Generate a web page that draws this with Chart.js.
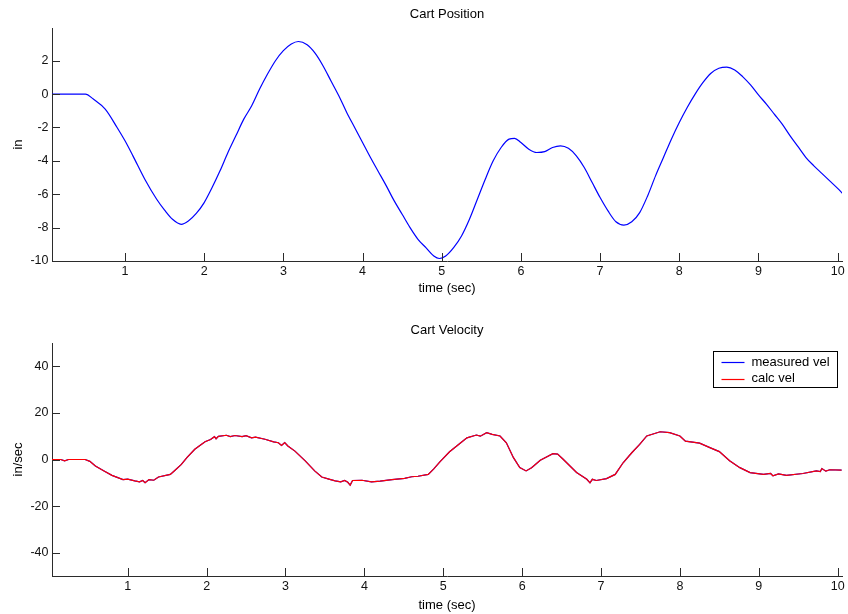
<!DOCTYPE html>
<html>
<head>
<meta charset="utf-8">
<script src="https://cdn.jsdelivr.net/npm/chart.js@4"></script>
<style>
  body { margin: 0; background: #fff; }
  canvas { position: absolute; left: 0; }
  #posChart { top: 0; }
  #velChart { top: 307px; }
</style>
</head>
<body>
<canvas id="posChart" width="848" height="307"></canvas>
<canvas id="velChart" width="848" height="307"></canvas>
<script>
// ---- data ----
const timeTicks = [1, 2, 3, 4, 5, 6, 7, 8, 9, 10];
const posTicks = [-10, -8, -6, -4, -2, 0, 2];
const velTicks = [-40, -20, 0, 20, 40];

const posTime = [0.08, 0.3, 0.5, 0.6, 0.75, 0.9, 1.0, 1.1, 1.25, 1.4, 1.5, 1.6, 1.71, 1.8, 1.9,
  2.0, 2.1, 2.2, 2.3, 2.4, 2.5, 2.6, 2.7, 2.8, 2.9, 3.0, 3.1, 3.19, 3.3, 3.4, 3.5, 3.6, 3.7, 3.8, 3.9,
  4.0, 4.1, 4.2, 4.3, 4.4, 4.5, 4.6, 4.7, 4.8, 4.9, 4.97, 5.05, 5.15, 5.25, 5.35, 5.45, 5.55, 5.65,
  5.75, 5.85, 5.92, 6.0, 6.1, 6.2, 6.3, 6.4, 6.5, 6.6, 6.7, 6.8, 6.9, 7.0, 7.1, 7.2, 7.3, 7.4, 7.5,
  7.6, 7.7, 7.8, 7.9, 8.0, 8.1, 8.2, 8.3, 8.4, 8.5, 8.6, 8.7, 8.8, 8.9, 9.0, 9.1, 9.2, 9.3, 9.4,
  9.5, 9.6, 9.7, 9.8, 9.9, 10.0, 10.06];
const posVal = [0, 0, 0, -0.3, -0.9, -2.0, -2.8, -3.7, -5.1, -6.3, -6.95, -7.5, -7.8, -7.6, -7.15,
  -6.5, -5.6, -4.6, -3.5, -2.5, -1.5, -0.7, 0.3, 1.2, 2.0, 2.6, 3.0, 3.15, 2.95, 2.45, 1.7, 0.8, -0.1, -1.1, -2.0,
  -2.9, -3.8, -4.65, -5.5, -6.4, -7.2, -8.0, -8.7, -9.2, -9.7, -9.85, -9.7, -9.2, -8.5, -7.5, -6.3, -5.1, -4.0,
  -3.2, -2.7, -2.65, -2.9, -3.3, -3.5, -3.45, -3.2, -3.1, -3.25, -3.7, -4.4, -5.3, -6.2, -7.0, -7.65, -7.85, -7.65, -7.1,
  -6.1, -4.9, -3.8, -2.7, -1.7, -0.8, 0.0, 0.7, 1.25, 1.55, 1.62, 1.45, 1.05, 0.55, -0.05, -0.6, -1.2, -1.8, -2.5,
  -3.15, -3.8, -4.3, -4.75, -5.2, -5.65, -5.95];

const velTime = [0.04, 0.15, 0.2, 0.25, 0.46, 0.52, 0.59, 0.7, 0.8, 0.94, 1.0, 1.09, 1.15, 1.19, 1.22, 1.27,
  1.33, 1.39, 1.54, 1.6, 1.68, 1.75, 1.85, 1.98, 2.05, 2.1, 2.12, 2.15, 2.25, 2.3, 2.36, 2.45, 2.5, 2.57,
  2.62, 2.74, 2.85, 2.91, 2.95, 2.99, 3.03, 3.12, 3.25, 3.37, 3.46, 3.55, 3.63, 3.7, 3.75, 3.79, 3.82,
  3.85, 3.97, 4.09, 4.2, 4.35, 4.51, 4.6, 4.68, 4.81, 4.88, 4.96, 5.08, 5.21, 5.3, 5.42, 5.47, 5.55,
  5.62, 5.72, 5.8, 5.89, 5.97, 6.05, 6.12, 6.23, 6.39, 6.45, 6.52, 6.69, 6.82, 6.86, 6.89, 6.94, 7.07,
  7.18, 7.28, 7.39, 7.49, 7.58, 7.75, 7.87, 8.0, 8.07, 8.25, 8.38, 8.5, 8.63, 8.76, 8.89, 9.06, 9.15,
  9.18, 9.25, 9.35, 9.56, 9.73, 9.78, 9.8, 9.85, 9.9, 10.05];
const velMeasured = [0, 0, -0.6, 0, 0, -0.8, -2.8, -4.9, -6.8, -8.6, -8.4, -9.2, -9.6, -9.0, -10.0, -8.6,
  -8.9, -7.5, -6.4, -4.6, -2.1, 0.8, 4.4, 7.6, 8.6, 9.8, 8.9, 9.9, 10.4, 9.8, 10.3, 9.8, 10.2, 9.3,
  9.6, 8.7, 7.6, 7.2, 6.0, 7.3, 5.8, 3.6, -0.6, -4.9, -7.5, -8.4, -9.2, -9.6, -9.0, -9.8, -11.0,
  -9.0, -8.9, -9.6, -9.3, -8.6, -8.1, -7.4, -7.2, -6.4, -4.0, -0.9, 3.3, 6.9, 9.3, 10.5, 10.0, 11.5,
  10.8, 10.1, 7.2, 0.8, -3.5, -4.9, -3.5, -0.3, 2.5, 2.3, 0.1, -5.6, -8.5, -10.0, -8.5, -9.0, -8.2,
  -6.4, -1.4, 2.9, 6.5, 10.1, 11.9, 11.5, 10.1, 7.9, 7.0, 5.1, 3.4, -0.5, -3.5, -5.6, -6.4, -6.0,
  -7.0, -6.2, -6.8, -6.0, -4.9, -5.2, -3.9, -5.0, -4.4, -4.6];
// the two velocity traces lie on top of each other in the picture
const velCalc = [0, 0, -0.6, 0, 0, -0.8, -2.8, -4.9, -6.8, -8.6, -8.4, -9.2, -9.6, -9.0, -10.0, -8.6,
  -8.9, -7.5, -6.4, -4.6, -2.1, 0.8, 4.4, 7.6, 8.6, 9.8, 8.9, 9.9, 10.4, 9.8, 10.3, 9.8, 10.2, 9.3,
  9.6, 8.7, 7.6, 7.2, 6.0, 7.3, 5.8, 3.6, -0.6, -4.9, -7.5, -8.4, -9.2, -9.6, -9.0, -9.8, -11.0,
  -9.0, -8.9, -9.6, -9.3, -8.6, -8.1, -7.4, -7.2, -6.4, -4.0, -0.9, 3.3, 6.9, 9.3, 10.5, 10.0, 11.5,
  10.8, 10.1, 7.2, 0.8, -3.5, -4.9, -3.5, -0.3, 2.5, 2.3, 0.1, -5.6, -8.5, -10.0, -8.5, -9.0, -8.2,
  -6.4, -1.4, 2.9, 6.5, 10.1, 11.9, 11.5, 10.1, 7.9, 7.0, 5.1, 3.4, -0.5, -3.5, -5.6, -6.4, -6.0,
  -7.0, -6.2, -6.8, -6.0, -4.9, -5.2, -3.9, -5.0, -4.4, -4.6];

// ---- styling ----
Chart.defaults.font.family = '"Liberation Sans", Arial, sans-serif';
Chart.defaults.color = "#111";
const AXIS = "#2b2b2b";

function pts(xs, ys) {
    return xs.map((x, i) => ({ x: x, y: ys[i] }));
}

// matlab style tick marks pointing into the plot
const innerTicks = {
    id: "innerTicks",
    afterDatasetsDraw(chart) {
        const { ctx, chartArea, scales } = chart;
        ctx.save();
        ctx.strokeStyle = AXIS;
        ctx.lineWidth = 1;
        ctx.beginPath();
        scales.x.ticks.forEach(t => {
            const px = Math.round(scales.x.getPixelForValue(t.value)) + 0.5;
            ctx.moveTo(px, chartArea.bottom);
            ctx.lineTo(px, chartArea.bottom - 8);
        });
        scales.y.ticks.forEach(t => {
            const py = Math.round(scales.y.getPixelForValue(t.value)) + 0.5;
            ctx.moveTo(chartArea.left, py);
            ctx.lineTo(chartArea.left + 8, py);
        });
        ctx.stroke();
        ctx.restore();
    }
};

// boxed legend in the upper right corner of the axes
const boxLegend = {
    id: "boxLegend",
    afterDraw(chart) {
        if (chart.canvas.id !== "velChart") return;
        const { ctx, chartArea } = chart;
        const w = 124, h = 36;
        const x0 = Math.round(chartArea.right - 5 - w) + 0.5;
        const y0 = Math.round(chartArea.top + 8) + 0.5;
        ctx.save();
        ctx.fillStyle = "#fff";
        ctx.fillRect(x0, y0, w, h);
        ctx.strokeStyle = "#000";
        ctx.lineWidth = 1;
        ctx.strokeRect(x0, y0, w, h);
        ctx.font = '13px "Liberation Sans", Arial, sans-serif';
        ctx.textBaseline = "middle";
        chart.data.datasets.forEach((ds, i) => {
            const yy = y0 + 10.5 + i * 16.6;
            ctx.strokeStyle = ds.borderColor;
            ctx.lineWidth = 1.2;
            ctx.beginPath();
            ctx.moveTo(x0 + 8, Math.round(yy) + 0.5);
            ctx.lineTo(x0 + 31, Math.round(yy) + 0.5);
            ctx.stroke();
            ctx.fillStyle = "#000";
            ctx.fillText(ds.label, x0 + 38, yy);
        });
        ctx.restore();
    }
};

function makeChart(id, cfg) {
    const ctx = document.getElementById(id).getContext("2d");
    return new Chart(ctx, {
        type: "line",
        data: { datasets: cfg.datasets },
        plugins: [innerTicks, boxLegend],
        options: {
            responsive: false,
            devicePixelRatio: 1,
            animation: false,
            layout: { padding: { left: 0, right: 6, top: 0, bottom: 0 } },
            elements: { point: { radius: 0 }, line: { borderWidth: 1.2, tension: 0 } },
            plugins: {
                legend: { display: false },
                tooltip: { enabled: false },
                title: {
                    display: true,
                    text: cfg.title,
                    fullSize: false,
                    color: "#000",
                    font: { size: 13, weight: "normal" },
                    padding: cfg.titlePad
                }
            },
            scales: {
                x: {
                    type: "linear",
                    min: cfg.xMin,
                    max: 10.055,
                    grid: { display: false, drawTicks: false },
                    border: { display: true, color: AXIS, width: 1 },
                    ticks: { font: { size: 12.5 }, color: "#111", padding: 3.2, autoSkip: false, maxRotation: 0 },
                    title: { display: true, text: "time (sec)", color: "#000", font: { size: 13 }, padding: { top: 0, bottom: cfg.xTitlePad } },
                    afterBuildTicks: s => { s.ticks = timeTicks.map(v => ({ value: v })); },
                    afterFit: s => { s.height = cfg.xHeight; s.paddingLeft = 0; s.paddingRight = 0; }
                },
                y: {
                    min: cfg.yMin,
                    max: cfg.yMax,
                    grid: { display: false, drawTicks: false },
                    border: { display: true, color: AXIS, width: 1 },
                    ticks: { font: { size: 12.5 }, color: "#111", padding: 3.5 },
                    title: { display: true, text: cfg.yLabel, color: "#000", font: { size: 13 }, padding: { top: 10.5, bottom: 0 } },
                    afterBuildTicks: s => { s.ticks = cfg.yTicks.map(v => ({ value: v })); },
                    afterFit: s => { s.width = 52; s.paddingTop = 0; s.paddingBottom = 0; }
                }
            }
        }
    });
}

makeChart("posChart", {
    title: "Cart Position",
    titlePad: { top: 6.2, bottom: 6.2 },
    xMin: 0.078, xHeight: 46, xTitlePad: 10.7,
    yMin: -10, yMax: 3.96, yTicks: posTicks, yLabel: "in",
    datasets: [
        { label: "position", data: pts(posTime, posVal), borderColor: "#0000ff", cubicInterpolationMode: "monotone" }
    ]
});

makeChart("velChart", {
    title: "Cart Velocity",
    titlePad: { top: 15.9, bottom: 4.5 },
    xMin: 0.04, xHeight: 38, xTitlePad: 1.2,
    yMin: -50, yMax: 50, yTicks: velTicks, yLabel: "in/sec",
    datasets: [
        { label: "measured vel", data: pts(velTime, velMeasured), borderColor: "#0000ff", order: 1 },
        { label: "calc vel", data: pts(velTime, velCalc), borderColor: "#ff0000", order: 0 }
    ]
});
</script>
</body>
</html>
